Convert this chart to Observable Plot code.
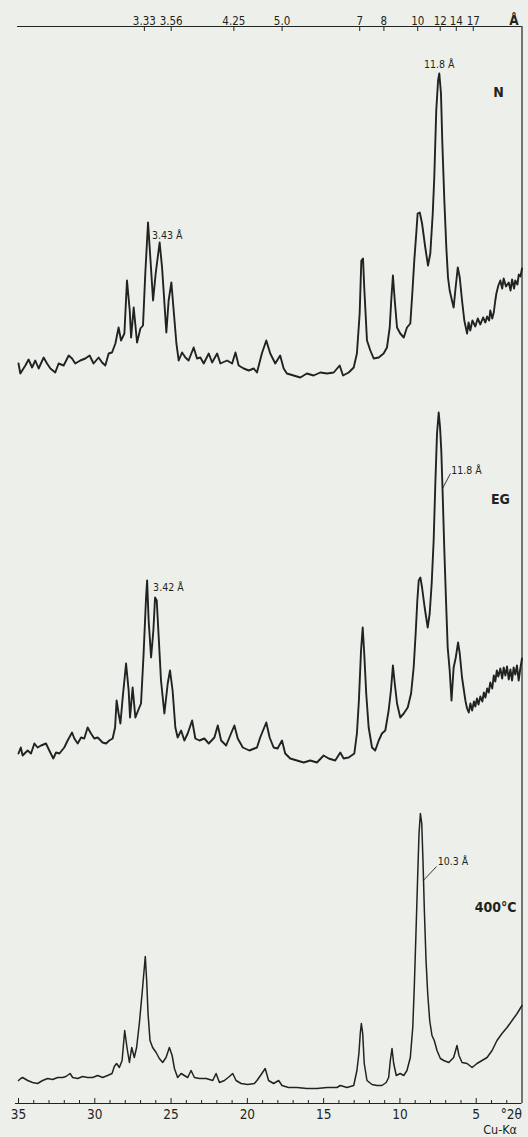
<!DOCTYPE html>
<html><head><meta charset="utf-8">
<script src="https://cdn.jsdelivr.net/npm/d3@7"></script>
<script src="https://cdn.jsdelivr.net/npm/@observablehq/plot@0.6"></script>
<style>
html,body{margin:0;padding:0;background:#edf0ea;}
#chart svg{display:block}
</style></head><body><div id="chart"></div>
<script>
// ---- data (°2θ, Cu-Kα) ----
const traceNames = ["N", "EG", "400°C"];
const traceOffsets = [703, 303, 3];

const nTheta = [35.0,34.88,34.55,34.34,34.11,33.90,33.68,33.35,33.13,32.91,32.59,32.37,32.04,31.71,31.49,31.28,30.95,30.62,30.34,30.08,29.75,29.52,29.31,29.09,28.87,28.65,28.44,28.28,28.06,27.89,27.71,27.62,27.45,27.23,27.01,26.84,26.69,26.51,26.36,26.18,26.01,25.75,25.59,25.49,25.31,25.16,24.98,24.83,24.65,24.50,24.28,24.06,23.85,23.52,23.30,23.08,22.86,22.53,22.31,21.98,21.77,21.33,21.00,20.78,20.57,20.24,19.91,19.58,19.37,19.05,18.76,18.50,18.17,17.85,17.62,17.41,16.97,16.53,16.10,15.66,15.22,14.78,14.34,13.95,13.73,13.36,13.03,12.82,12.64,12.53,12.42,12.34,12.16,11.94,11.72,11.39,11.07,10.85,10.67,10.57,10.46,10.34,10.19,9.98,9.75,9.54,9.32,9.19,9.06,8.93,8.84,8.70,8.55,8.34,8.16,8.01,7.85,7.75,7.62,7.50,7.42,7.31,7.22,7.09,6.96,6.85,6.74,6.59,6.48,6.37,6.21,6.08,5.93,5.78,5.60,5.50,5.39,5.25,5.06,4.90,4.73,4.55,4.40,4.29,4.15,4.08,3.95,3.85,3.75,3.68,3.55,3.42,3.30,3.20,3.05,2.87,2.75,2.65,2.52,2.44,2.30,2.21,2.10,2.00];
const nInt = [37,27,35,41,33,40,32,43,37,32,28,37,35,45,42,37,40,42,45,37,43,38,35,47,48,57,73,60,67,120,90,63,93,58,72,75,127,178,143,100,127,158,133,110,68,100,118,90,57,40,48,43,40,53,42,43,37,47,38,47,37,40,37,48,35,32,30,32,28,47,60,47,37,45,32,27,25,23,27,25,28,27,28,35,25,28,33,47,87,140,142,113,60,50,42,43,47,53,73,100,125,100,73,67,63,73,77,107,140,167,187,188,177,153,135,147,187,223,290,320,327,307,257,200,153,123,110,100,93,110,133,123,100,80,67,78,70,80,74,82,76,83,78,84,80,90,82,88,100,107,115,120,112,122,114,118,110,121,112,120,116,126,124,132];

const egTheta = [35.0,34.85,34.73,34.40,34.18,33.96,33.75,33.52,33.20,32.98,
32.72,32.54,32.32,32.00,31.78,31.49,31.34,31.12,30.90,30.69,
30.47,30.25,30.03,29.81,29.49,29.26,29.05,28.83,28.67,28.57,
28.44,28.32,28.17,27.95,27.78,27.69,27.52,27.34,27.16,26.97,
26.80,26.64,26.57,26.47,26.31,26.16,26.05,25.94,25.81,25.66,
25.44,25.22,25.07,24.90,24.72,24.57,24.34,24.13,23.91,23.62,
23.41,23.14,22.82,22.53,22.16,21.94,21.72,21.39,21.07,20.85,
20.63,20.30,19.87,19.37,19.16,18.76,18.54,18.28,18.02,17.73,
17.52,17.19,16.75,16.31,15.88,15.44,15.00,14.67,14.24,13.91,
13.69,13.36,12.99,12.82,12.69,12.55,12.44,12.34,12.21,12.05,
11.83,11.62,11.39,11.18,10.96,10.74,10.59,10.46,10.34,10.19,
9.98,9.75,9.49,9.27,9.10,8.97,8.86,8.77,8.66,8.55,
8.38,8.18,8.05,7.92,7.79,7.68,7.57,7.46,7.37,7.29,
7.20,7.09,6.98,6.87,6.74,6.62,6.48,6.34,6.19,6.08,
5.93,5.71,5.60,5.49,5.38,5.27,5.15,5.06,4.95,4.85,
4.73,4.60,4.50,4.40,4.28,4.18,4.08,3.95,3.85,3.75,
3.65,3.55,3.42,3.30,3.20,3.09,2.98,2.87,2.76,2.65,
2.55,2.44,2.33,2.22,2.11,2.00];
const egInt = [47,53,45,50,47,57,53,55,57,50,
42,48,47,53,60,68,62,57,63,62,
73,67,62,63,58,57,60,62,73,100,
87,77,103,137,110,83,113,83,90,97,
147,203,220,180,143,170,203,200,163,120,
87,117,130,110,73,63,70,60,67,80,
62,60,62,57,63,75,60,55,67,75,
62,53,50,53,63,78,63,53,52,60,
47,42,40,38,40,38,45,42,40,48,
42,43,47,67,100,150,173,147,107,73,
53,50,60,67,70,90,110,135,117,97,
83,87,93,107,133,167,200,220,223,213,
193,173,187,217,260,317,367,388,373,350,
307,250,200,153,130,100,133,143,158,147,
123,100,92,88,97,90,99,94,102,96,
104,99,108,103,112,108,118,112,125,119,
130,124,132,122,133,125,134,121,131,120,
133,126,135,120,132,142];

const hTheta = [35.0,34.85,34.73,34.40,34.08,33.75,33.42,33.09,32.76,32.44,
32.11,31.89,31.62,31.45,31.12,30.80,30.47,30.14,29.81,29.49,
29.16,28.87,28.72,28.57,28.39,28.21,28.04,27.89,27.73,27.58,
27.41,27.26,27.08,26.90,26.77,26.69,26.60,26.51,26.38,26.21,
25.98,25.77,25.55,25.33,25.11,24.93,24.78,24.57,24.34,24.13,
23.91,23.69,23.47,23.14,22.70,22.27,22.05,21.83,21.50,21.18,
20.96,20.74,20.41,19.98,19.54,19.37,19.05,18.83,18.61,18.28,
17.95,17.73,17.30,16.75,16.10,15.44,14.78,14.13,13.91,13.47,
13.03,12.82,12.69,12.60,12.53,12.44,12.34,12.16,11.83,11.50,
11.18,10.90,10.74,10.63,10.52,10.41,10.24,9.98,9.75,9.54,
9.32,9.16,9.06,8.95,8.84,8.75,8.66,8.57,8.49,8.40,
8.29,8.18,8.05,7.90,7.75,7.57,7.35,7.13,6.80,6.48,
6.26,6.13,5.93,5.60,5.27,4.95,4.62,4.29,3.96,3.64,
3.31,2.98,2.65,2.32,2.00];
const hInt = [20,22,23,20,18,17,20,22,21,23,
23,24,27,23,22,24,23,23,25,23,
25,27,34,37,33,40,70,53,38,53,
43,53,77,107,130,144,120,87,60,53,
48,42,38,43,53,45,32,23,27,25,
23,30,23,22,22,20,27,18,20,24,
27,20,17,16,17,20,27,32,20,17,
20,15,13,13,12,12,13,13,15,13,
15,30,47,67,77,67,37,20,16,15,
15,18,23,40,52,37,25,27,25,30,
43,73,113,167,223,267,287,277,240,190,
140,107,80,65,60,50,42,40,38,43,
55,45,38,37,33,37,40,43,50,60,
67,73,80,87,95];

// axes
const bottomMinorTicks = d3.range(3, 36);
const bottomLabels = [35, 30, 25, 20, 15, 10, 5];
const dSpacings = [3.33, 3.56, 4.25, 5.0, 7, 8, 10, 12, 14, 17];
const dLabels = ["3.33", "3.56", "4.25", "5.0", "7", "8", "10", "12", "14", "17"];
const wavelength = 1.5406; // Cu-Kα, Å

// annotations
const peakLabelText = ["3.43 Å", "11.8 Å", "3.42 Å", "11.8 Å", "10.3 Å"];
const peakLabelTrace = [0, 0, 1, 1, 2];
const peakLabelTheta = [26.51, 7.42, 26.57, 6.64, 7.53];
const peakLabelInt = [178, 327, 220, 330, 239];
const leaderTrace = [1, 2];
const leaderTheta1 = [7.21, 8.47];
const leaderInt1 = [312, 220];
const leaderTheta2 = [6.69, 7.60];
const leaderInt2 = [327, 234];
const nameTheta = [3.54, 3.41, 3.73];
const nameInt = [308, 301, 193];

// ---- build ----
const traces = [[nTheta, nInt], [egTheta, egInt], [hTheta, hInt]];
const rows = traces.flatMap(([t, v], k) => t.map((x, i) => ({trace: traceNames[k], k, t: x, y: traceOffsets[k] + v[i]})));
const bragg = d => 2 * Math.asin(wavelength / (2 * d)) * 180 / Math.PI;
const yTop = 1077;
const ink = "#1f2420";
const lab = peakLabelText.map((s, i) => ({s, t: peakLabelTheta[i], y: traceOffsets[peakLabelTrace[i]] + peakLabelInt[i]}));
const leaders = leaderTrace.map((k, i) => ({x1: leaderTheta1[i], y1: traceOffsets[k] + leaderInt1[i], x2: leaderTheta2[i], y2: traceOffsets[k] + leaderInt2[i]}));
const names = traceNames.map((s, k) => ({s, t: nameTheta[k], y: traceOffsets[k] + nameInt[k]}));
const font = "'DejaVu Sans Condensed','DejaVu Sans',sans-serif";

const chart = Plot.plot({
  width: 528, height: 1137,
  marginLeft: 18, marginRight: 6.5, marginTop: 26, marginBottom: 34,
  style: {background: "#edf0ea", fontFamily: font, color: ink},
  x: {domain: [35, 2], axis: null},
  y: {domain: [0, yTop], axis: null},
  marks: [
    Plot.ruleY([0], {stroke: ink, strokeWidth: 1.2, insetLeft: -3}),
    Plot.ruleY([yTop], {stroke: ink, strokeWidth: 1.2, insetLeft: -1}),
    Plot.ruleX([2], {stroke: ink, strokeWidth: 1.2}),
    Plot.ruleX(bottomMinorTicks, {x: d => d, y1: 0, y2: d => d % 5 === 0 ? 5 : 3, stroke: ink, strokeWidth: 1}),
    Plot.text(bottomLabels, {x: d => d, y: 0, text: d => String(d), dy: 6, lineAnchor: "top", fontSize: 13.5, fill: ink}),
    Plot.text(["°2θ"], {frameAnchor: "bottom-right", text: d => d, dy: 6, dx: 0, lineAnchor: "top", textAnchor: "end", fontSize: 13.5, fill: ink}),
    Plot.text(["Cu-Kα"], {frameAnchor: "bottom-right", text: d => d, dy: 22, dx: -5, lineAnchor: "top", textAnchor: "end", fontSize: 12.5, fill: ink}),
    Plot.ruleX(dSpacings, {x: bragg, y1: yTop, y2: yTop - 5, stroke: ink, strokeWidth: 1}),
    Plot.text(dSpacings, {x: bragg, y: yTop, text: (d, i) => dLabels[i], dy: -2, lineAnchor: "bottom", fontSize: 11.5, fill: ink}),
    Plot.text(["Å"], {frameAnchor: "top-right", text: d => d, dx: -8, dy: -2, lineAnchor: "bottom", textAnchor: "middle", fontSize: 13.5, fontWeight: "bold", fill: ink}),
    Plot.line(rows.filter(d => d.k < 2), {x: "t", y: "y", z: "trace", stroke: ink, strokeWidth: 1.9, strokeLinejoin: "round"}),
    Plot.line(rows.filter(d => d.k === 2), {x: "t", y: "y", z: "trace", stroke: ink, strokeWidth: 1.5, strokeLinejoin: "round"}),
    Plot.text([lab[0]], {x: "t", y: "y", text: "s", dx: 4, dy: 13, textAnchor: "start", fontSize: 10.5, fill: ink}),
    Plot.text([lab[1]], {x: "t", y: "y", text: "s", dy: -9, textAnchor: "middle", fontSize: 10.5, fill: ink}),
    Plot.text([lab[2]], {x: "t", y: "y", text: "s", dx: 6, dy: 7, textAnchor: "start", fontSize: 10.5, fill: ink}),
    Plot.text([lab[3], lab[4]], {x: "t", y: "y", text: "s", textAnchor: "start", fontSize: 10.5, fill: ink}),
    Plot.link(leaders, {x1: "x1", y1: "y1", x2: "x2", y2: "y2", stroke: ink, strokeWidth: 0.9}),
    Plot.text(names, {x: "t", y: "y", text: "s", textAnchor: "middle", fontSize: 14, fontWeight: "bold", fill: ink})
  ]
});
document.getElementById("chart").appendChild(chart);
</script>
</body></html>
